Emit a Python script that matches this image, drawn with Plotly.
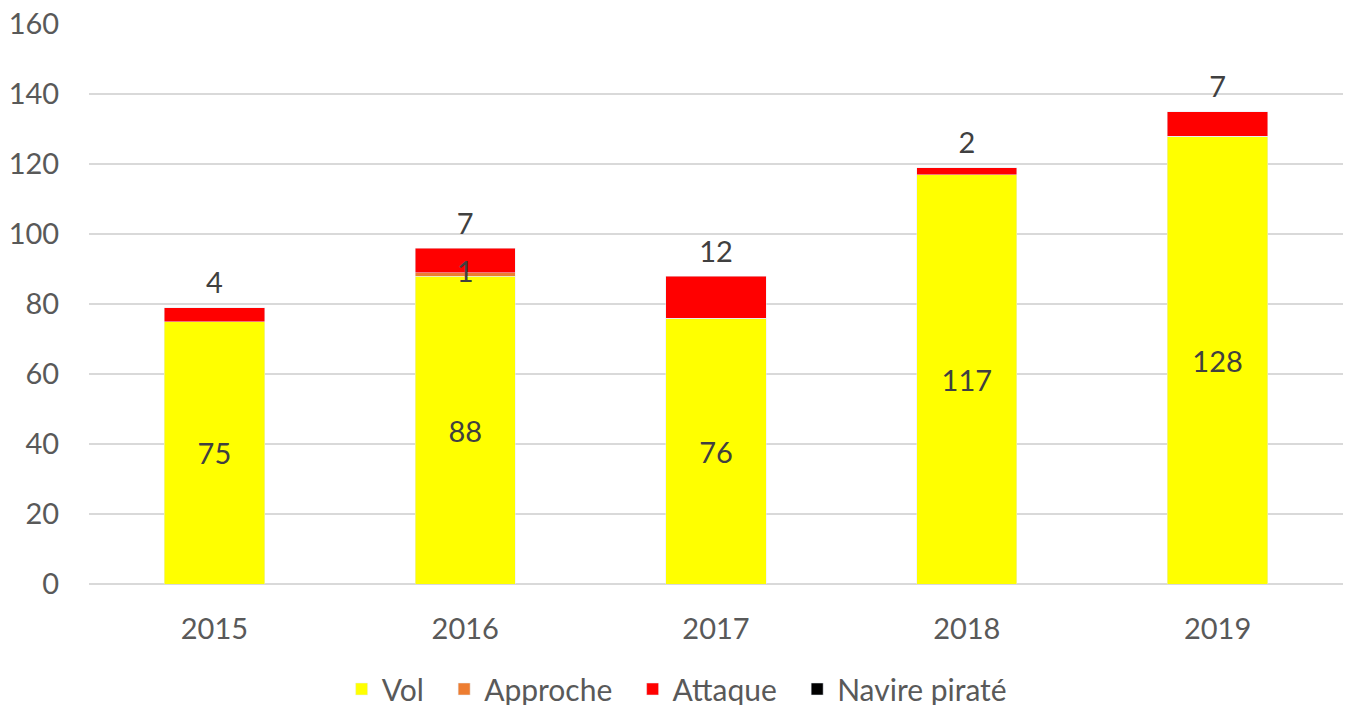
import plotly.graph_objects as go

years = ["2015", "2016", "2017", "2018", "2019"]
vol = [75, 88, 76, 117, 128]
approche = [0, 1, 0, 0, 0]
attaque = [4, 7, 12, 2, 7]
navire = [0, 0, 0, 0, 0]

FONT = "Lato"
TXT = "#595959"
LBL = "#404040"
FS = 29
PAD = "\u00a0\u00a0"

totals = [v + a + t + n for v, a, t, n in zip(vol, approche, attaque, navire)]
appr_mid = [v + a / 2 for v, a in zip(vol, approche)]
appr_txt = [str(a) if a > 0 else "" for a in approche]

fig = go.Figure()
fig.add_trace(go.Bar(name="Vol" + PAD, x=years, y=vol, marker_color="#FFFF00",
                     text=[str(v) for v in vol], textposition="inside",
                     insidetextanchor="middle", textangle=0,
                     textfont=dict(family=FONT, size=FS, color=LBL),
                     legendrank=1))
fig.add_trace(go.Bar(name="Approche" + PAD, x=years, y=approche, marker_color="#ED7D31",
                     legendrank=2))
fig.add_trace(go.Bar(name="Navire piraté", x=years, y=navire, marker_color="#000000",
                     legendrank=4))
fig.add_trace(go.Bar(name="Attaque" + PAD, x=years, y=attaque, marker_color="#FF0000",
                     legendrank=3))

# data labels: approche on its segment, attaque above the stack
fig.add_trace(go.Scatter(x=years, y=appr_mid, mode="text", text=appr_txt,
                         textposition="middle center", showlegend=False,
                         cliponaxis=False, hoverinfo="skip",
                         textfont=dict(family=FONT, size=FS, color=LBL)))
fig.add_trace(go.Scatter(x=years, y=totals, mode="markers+text", text=[str(a) for a in attaque],
                         textposition="top center", showlegend=False,
                         marker=dict(size=10, opacity=0),
                         cliponaxis=False, hoverinfo="skip",
                         textfont=dict(family=FONT, size=FS, color=LBL)))

fig.update_layout(
    barmode="stack",
    bargap=0.6,
    width=1351, height=705,
    margin=dict(l=89, r=8, t=24, b=121, autoexpand=False),
    plot_bgcolor="white", paper_bgcolor="white",
    font=dict(family=FONT, size=FS, color=TXT),
    legend=dict(orientation="h", x=0.469, xanchor="center", y=-0.1875, yanchor="middle",
                font=dict(family=FONT, size=30, color=TXT),
                traceorder="normal"),
    showlegend=True,
)
fig.update_yaxes(range=[0, 160], dtick=20, showgrid=True, gridcolor="#D9D9D9",
                 gridwidth=2, zeroline=True, zerolinecolor="#D9D9D9", zerolinewidth=2,
                 automargin=False, ticks="outside", ticklen=23, tickcolor="rgba(0,0,0,0)",
                 tickfont=dict(family=FONT, size=FS, color=TXT))
fig.update_xaxes(type="category", categoryorder="array", categoryarray=years,
                 range=[-0.5, len(years) - 0.5], showline=False, automargin=False,
                 ticks="outside", ticklen=19, tickcolor="rgba(0,0,0,0)",
                 tickfont=dict(family=FONT, size=FS, color=TXT))

fig.write_html("out.html", config={"displayModeBar": False},
               post_script="document.body.style.margin='0';document.body.style.overflow='hidden';")
